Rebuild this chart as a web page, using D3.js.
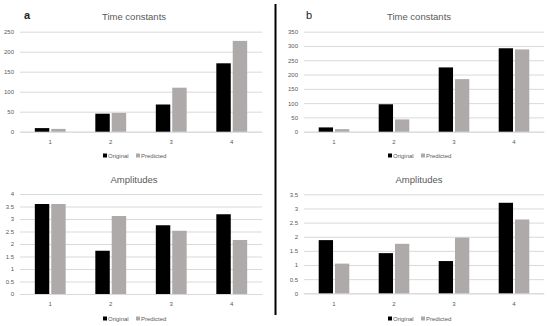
<!DOCTYPE html>
<html>
<head>
<meta charset="utf-8">
<script src="https://cdn.jsdelivr.net/npm/d3@7"></script>
<style>
  body { margin: 0; background: #fff; }
  svg { font-family: "Liberation Sans", Arial, sans-serif; }
</style>
</head>
<body>
<script>
var categories = ["1", "2", "3", "4"];
var seriesNames = ["Original", "Predicted"];

// panel a
var aTimeOriginal = [9, 45, 68, 171];
var aTimePredicted = [7, 47, 110, 227];
var aAmpOriginal = [3.6, 1.73, 2.75, 3.19];
var aAmpPredicted = [3.6, 3.12, 2.53, 2.16];

// panel b
var bTimeOriginal = [15, 96, 225, 292];
var bTimePredicted = [9, 43, 184, 288];
var bAmpOriginal = [1.88, 1.42, 1.14, 3.2];
var bAmpPredicted = [1.05, 1.75, 1.97, 2.61];

var aTimeTicks = [0, 50, 100, 150, 200, 250];
var bTimeTicks = [0, 50, 100, 150, 200, 250, 300, 350];
var aAmpTicks = [0, 0.5, 1, 1.5, 2, 2.5, 3, 3.5, 4];
var bAmpTicks = [0, 0.5, 1, 1.5, 2, 2.5, 3, 3.5];

var color = d3.scaleOrdinal().domain(seriesNames).range(["#000000", "#aeaaaa"]);

var svg = d3.select("body").append("svg")
    .attr("width", 550)
    .attr("height", 326);

function drawPanel(p) {
    var g = svg.append("g");

    var x0 = d3.scaleBand().domain(categories)
        .range([p.left, p.right])
        .paddingInner(0.49)
        .paddingOuter(0.245);
    var x1 = d3.scaleBand().domain(seriesNames)
        .range([0, x0.bandwidth()])
        .paddingInner(0.12);
    var y = d3.scaleLinear()
        .domain([0, d3.max(p.ticks)])
        .range([p.bottom, p.top]);

    // gridlines
    var yAxis = d3.axisLeft(y)
        .tickValues(p.ticks)
        .tickSize(-(p.right - p.left))
        .tickPadding(6)
        .tickFormat(function (d) { return d; });
    var ya = g.append("g")
        .attr("transform", "translate(" + p.left + ",0)")
        .call(yAxis);
    ya.select(".domain").remove();
    ya.selectAll("line").attr("stroke", "#d9d9d9").attr("stroke-width", 1);
    ya.selectAll("text").attr("fill", "#595959").style("font-size", "6px");

    var xa = g.append("g")
        .attr("transform", "translate(0," + p.bottom + ")")
        .call(d3.axisBottom(x0).tickSize(0).tickPadding(8));
    xa.select(".domain").attr("stroke", "#d9d9d9");
    xa.selectAll("text").attr("fill", "#595959").style("font-size", "6px");

    var rows = categories.map(function (c, i) {
        return { cat: c, vals: [
            { name: seriesNames[0], value: p.original[i] },
            { name: seriesNames[1], value: p.predicted[i] }
        ] };
    });

    g.selectAll(".grp")
        .data(rows)
        .enter().append("g")
        .attr("transform", function (d) { return "translate(" + x0(d.cat) + ",0)"; })
        .selectAll("rect")
        .data(function (d) { return d.vals; })
        .enter().append("rect")
        .attr("x", function (d) { return x1(d.name); })
        .attr("width", x1.bandwidth())
        .attr("y", function (d) { return y(d.value); })
        .attr("height", function (d) { return y(0) - y(d.value); })
        .attr("fill", function (d) { return color(d.name); });

    g.append("text")
        .attr("x", p.center)
        .attr("y", p.titleY)
        .attr("text-anchor", "middle")
        .attr("fill", "#595959")
        .style("font-size", "9.5px")
        .text(p.title);

    // legend
    var lg = g.append("g").attr("transform", "translate(" + p.center + "," + p.legendY + ")");
    var offs = [-31, 2];
    seriesNames.forEach(function (s, i) {
        lg.append("rect")
            .attr("x", offs[i]).attr("y", -4)
            .attr("width", 4).attr("height", 4)
            .attr("fill", color(s));
        lg.append("text")
            .attr("x", offs[i] + 5).attr("y", 0)
            .attr("fill", "#595959")
            .style("font-size", "6px")
            .text(s);
    });
}

drawPanel({ title: "Time constants", original: aTimeOriginal, predicted: aTimePredicted, ticks: aTimeTicks,
    left: 20, right: 262, top: 31.7, bottom: 131.7, center: 134, titleY: 20, legendY: 157.5 });
drawPanel({ title: "Time constants", original: bTimeOriginal, predicted: bTimePredicted, ticks: bTimeTicks,
    left: 304, right: 544, top: 31.7, bottom: 131.7, center: 419, titleY: 20, legendY: 157.5 });
drawPanel({ title: "Amplitudes", original: aAmpOriginal, predicted: aAmpPredicted, ticks: aAmpTicks,
    left: 20, right: 262, top: 194, bottom: 294, center: 134, titleY: 183, legendY: 320.5 });
drawPanel({ title: "Amplitudes", original: bAmpOriginal, predicted: bAmpPredicted, ticks: bAmpTicks,
    left: 304, right: 544, top: 194.3, bottom: 293.3, center: 419, titleY: 183, legendY: 320.5 });

// panel letters
svg.append("text").attr("x", 24).attr("y", 19)
    .style("font-size", "11px").style("font-weight", "bold").attr("fill", "#222").text("a");
svg.append("text").attr("x", 306).attr("y", 19)
    .style("font-size", "11px").attr("fill", "#222").text("b");

// divider
svg.append("line")
    .attr("x1", 275.5).attr("x2", 275.5)
    .attr("y1", 4).attr("y2", 315)
    .attr("stroke", "#000").attr("stroke-width", 2);
</script>
</body>
</html>
